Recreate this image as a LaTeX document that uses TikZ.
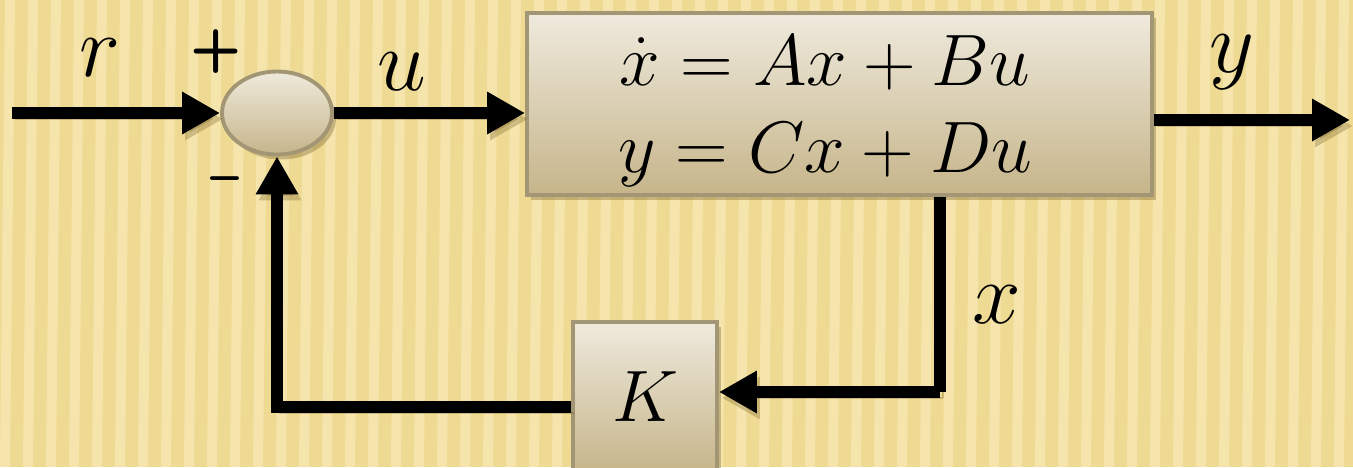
\documentclass[tikz,border=0pt]{standalone}
\usepackage{amsmath,amssymb}
\usepackage{xcolor}
\usepackage{tikz}
\usetikzlibrary{shapes.geometric,arrows.meta,positioning,calc,shadows}
\definecolor{paleochre}{RGB}{239,218,148}
\definecolor{lightstraw}{RGB}{250,237,188}
\definecolor{boxtop}{RGB}{239,234,221}
\definecolor{boxbottom}{RGB}{198,181,138}
\definecolor{boxedge}{RGB}{162,150,116}
\definecolor{shadebrown}{RGB}{115,90,35}

\begin{document}
\begin{tikzpicture}[x=1cm,y=1cm,
    blockbox/.style={draw=boxedge, line width=1.1pt, top color=boxtop, bottom color=boxbottom, inner sep=0pt,
        drop shadow={shadow xshift=0.04cm, shadow yshift=-0.05cm, opacity=0.35, fill=shadebrown}},
    signal/.style={line width=0.12cm, -{Triangle[length=0.38cm,width=0.40cm]},
        preaction={draw=shadebrown, opacity=0.3, transform canvas={shift={(0.03,-0.06)}}}},
    wire/.style={line width=0.12cm,
        preaction={draw=shadebrown, opacity=0.3, transform canvas={shift={(0.03,-0.06)}}}},
    biglabel/.style={font=\fontsize{26}{30}\selectfont},
    signlabel/.style={font=\sffamily\bfseries\fontsize{17}{19}\selectfont}]
    \useasboundingbox (0,0) rectangle (13.53,4.67);
    \fill[paleochre] (0,0) rectangle (13.53,4.67);
    \foreach \s in {0,0.23,...,13.6}
        \fill[lightstraw, opacity=0.6] (\s,0) -- ++(0.10,0) -- ++(0.05,4.67) -- ++(-0.10,0) -- cycle;

    \node[blockbox, ellipse, minimum width=1.10cm, minimum height=0.83cm] (sum) at (2.77,3.54) {};
    \node[blockbox, minimum width=6.25cm, minimum height=1.82cm] (plant) at (8.395,3.63) {};
    \node[align=center, font=\fontsize{21}{24.7}\selectfont] (eqs) at (8.25,3.56)
        {$\dot{x} = Ax + Bu$\\ $y = Cx + Du$};
    \node[blockbox, minimum width=1.44cm, minimum height=1.50cm, font=\fontsize{22}{26}\selectfont] (gain) at (6.45,0.70) {$K$};

    \coordinate (rin) at (0.12,3.54);
    \coordinate (yout) at (13.50,3.47);
    \coordinate (xtap) at (9.40,0.75);

    \draw[signal] (rin) -- (sum.west);
    \draw[signal] (sum.east) -- (sum.east -| plant.west);
    \draw[signal] (plant.east |- yout) -- (yout);
    \draw[wire] (plant.south -| xtap) -- (xtap);
    \draw[signal] (xtap) -- (xtap -| gain.east);
    \draw[signal] ([yshift=-0.1cm]gain.west) -| (sum.south);

    \node[biglabel] (rlab) at (1.00,4.09) {$r$};
    \node[biglabel] (ulab) at (4.02,3.95) {$u$};
    \node[biglabel] (ylab) at (12.32,4.05) {$y$};
    \node[biglabel] (xlab) at (9.97,1.62) {$x$};
    \node[signlabel] (plus) at (2.16,4.15) {+};
    \node[signlabel, font=\sffamily\bfseries\fontsize{15}{17}\selectfont] (minus) at (2.25,2.82) {\textendash};
\end{tikzpicture}
\end{document}
